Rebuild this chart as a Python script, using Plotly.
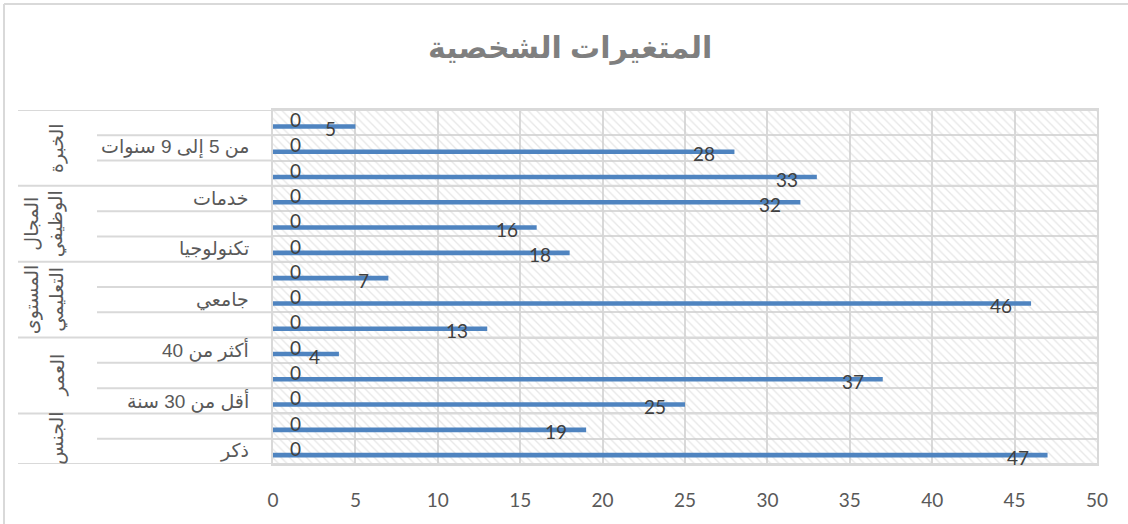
import plotly.graph_objects as go

# Rows listed bottom to top; every second row label is shown on the axis
row_labels = ["ذكر", "", "أقل من 30 سنة", "", "أكثر من 40", "", "جامعي", "",
              "تكنولوجيا", "", "خدمات", "", "من 5 إلى 9 سنوات", ""]
values = [47, 19, 25, 37, 4, 13, 46, 7, 18, 16, 32, 33, 28, 5]
zero_series = [0] * 14

groups = ["الجنس", "العمر", "المستوى<br>التعليمي", "المجال<br>الوظيفي", "الخبرة"]
group_sizes = [2, 3, 3, 3, 3]

title_text = "المتغيرات الشخصية"
x_ticks = [0, 5, 10, 15, 20, 25, 30, 35, 40, 45, 50]

W, H = 1128, 524
ML, MR, MT, MB = 273, 31, 110, 60
PW, PH = W - ML - MR, H - MT - MB

GRID = "#d9d9d9"
BAR = "#4f84c0"
TXT = "#404040"
LBL = "#595959"
NUM_FONT = "Lato, Carlito, sans-serif"
AR_FONT = "Arial, 'DejaVu Sans', sans-serif"


def px_to_paper_x(px):
    return (px - ML) / PW


def px_to_paper_y(py):
    return (H - MB - py) / PH


n = len(values)
idx = list(range(n))
xmax = x_ticks[-1]

fig = go.Figure()

# hatched plot-area fill on the base axes (drawn underneath the bar axes)
fig.add_trace(go.Scatter(
    x=[0, xmax, xmax, 0, 0], y=[-0.5, -0.5, n - 0.5, n - 0.5, -0.5],
    mode="lines", fill="toself", line=dict(width=0),
    fillcolor="rgba(0,0,0,0)",
    fillpattern=dict(shape="\\", fgcolor="#cfcfcf", bgcolor="rgba(0,0,0,0)",
                     size=6, solidity=0.22),
    hoverinfo="skip", showlegend=False,
))

BAR_W = 0.18
fig.add_trace(go.Bar(
    x=values, y=idx, orientation="h", width=BAR_W, offset=-0.15 - BAR_W / 2,
    marker=dict(color=BAR, line=dict(width=0)), hoverinfo="skip", showlegend=False,
    xaxis="x2", yaxis="y2",
))
fig.add_trace(go.Bar(
    x=zero_series, y=idx, orientation="h", width=BAR_W, offset=0.12 - BAR_W / 2,
    marker=dict(color=BAR, line=dict(width=0)), hoverinfo="skip", showlegend=False,
    xaxis="x2", yaxis="y2",
))

annotations = []
for i, v in enumerate(values):
    annotations.append(dict(
        x=v, y=i - 0.15, xref="x", yref="y", text=str(v), showarrow=False,
        xanchor="right", yanchor="middle", xshift=-17, yshift=-2,
        font=dict(family=NUM_FONT, size=19, color=TXT),
    ))
for i, v in enumerate(zero_series):
    annotations.append(dict(
        x=v, y=i + 0.12, xref="x", yref="y", text=str(v), showarrow=False,
        xanchor="left", yanchor="middle", xshift=15,
        font=dict(family=NUM_FONT, size=19, color=TXT),
    ))

# row category labels
for i, lab in enumerate(row_labels):
    if lab:
        annotations.append(dict(
            x=px_to_paper_x(251), y=i, xref="paper", yref="y", text=lab,
            showarrow=False, xanchor="right", yanchor="middle",
            font=dict(family=AR_FONT, size=19, color=LBL),
        ))

# group labels and separators
shapes = []
line_style = dict(color=GRID, width=2)
start = 0
bounds = [-0.5]
for g, size in zip(groups, group_sizes):
    center = start + (size - 1) / 2
    annotations.append(dict(
        x=px_to_paper_x(70), y=center, xref="paper", yref="y", text=g,
        showarrow=False, textangle=-90, xanchor="right", yanchor="middle",
        font=dict(family=AR_FONT, size=19, color=LBL),
    ))
    for k in range(1, size):
        yb = start + k - 0.5
        shapes.append(dict(type="line", xref="paper", yref="y",
                           x0=px_to_paper_x(97), x1=0, y0=yb, y1=yb, line=line_style))
    start += size
    bounds.append(start - 0.5)
for yb in bounds:
    shapes.append(dict(type="line", xref="paper", yref="y",
                       x0=px_to_paper_x(18), x1=1, y0=yb, y1=yb, line=line_style))

# outer chart border (left and top edges inside the frame)
shapes.append(dict(type="line", xref="paper", yref="paper",
                   x0=px_to_paper_x(4), x1=px_to_paper_x(W + 10),
                   y0=px_to_paper_y(4), y1=px_to_paper_y(4), line=line_style))
shapes.append(dict(type="line", xref="paper", yref="paper",
                   x0=px_to_paper_x(4), x1=px_to_paper_x(4),
                   y0=px_to_paper_y(4), y1=px_to_paper_y(H + 10), line=line_style))

annotations.append(dict(
    x=px_to_paper_x(570), y=px_to_paper_y(48), xref="paper", yref="paper",
    text="<b>" + title_text + "</b>", showarrow=False,
    xanchor="center", yanchor="middle",
    font=dict(family=AR_FONT, size=30, color="#7f7f7f"),
))

fig.update_layout(
    width=W, height=H,
    margin=dict(l=ML, r=MR, t=MT, b=MB, autoexpand=False),
    paper_bgcolor="white", plot_bgcolor="white",
    barmode="overlay",
    xaxis=dict(range=[0, xmax], tickvals=x_ticks, showgrid=True, gridcolor=GRID,
               gridwidth=2, zeroline=False, showline=True, mirror=True,
               linecolor=GRID, linewidth=2, ticks="", ticklabelstandoff=18,
               tickfont=dict(family=NUM_FONT, size=19, color=LBL), fixedrange=True),
    yaxis=dict(range=[-0.5, n - 0.5], tickvals=[k + 0.5 for k in range(n - 1)],
               showticklabels=False, showgrid=True, gridcolor=GRID, gridwidth=2,
               zeroline=False, showline=True, mirror=True, linecolor=GRID,
               linewidth=2, ticks="", fixedrange=True),
    xaxis2=dict(overlaying="x", range=[0, xmax], visible=False, fixedrange=True),
    yaxis2=dict(overlaying="y", range=[-0.5, n - 0.5], visible=False, fixedrange=True),
    annotations=annotations, shapes=shapes,
    showlegend=False,
)

fig.write_html("out.html", config={"displayModeBar": False})
